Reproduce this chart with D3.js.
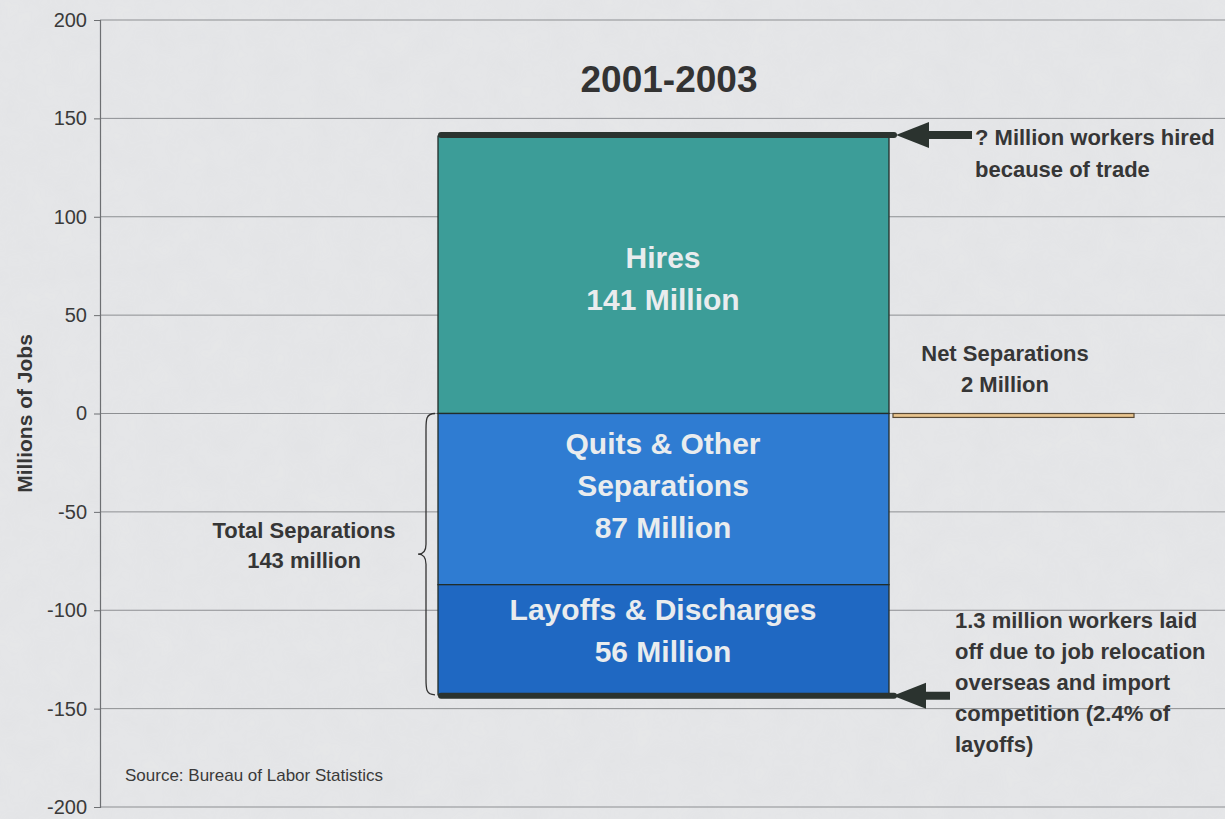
<!DOCTYPE html>
<html>
<head>
<meta charset="utf-8">
<script src="https://cdn.jsdelivr.net/npm/d3@7"></script>
<style>
  html, body { margin: 0; padding: 0; background: #e5e6e8; }
  svg { display: block; font-family: "Liberation Sans", Arial, sans-serif; }
</style>
</head>
<body>
<svg id="chart" width="1225" height="819"></svg>
<script>
// Job flows, 2001-2003 (millions of jobs)
const segments = ["Hires", "Quits & Other Separations", "Layoffs & Discharges"];
const segmentStart = [0, 0, -87];
const segmentEnd = [141, -87, -143];
const segmentLabels = [["Hires", "141 Million"], ["Quits & Other", "Separations", "87 Million"], ["Layoffs & Discharges", "56 Million"]];
const netSeparations = -2;
const totalHires = 141;
const totalSeparations = -143;
const yTicks = [200, 150, 100, 50, 0, -50, -100, -150, -200];

const svg = d3.select("#chart");
const W = 1225, H = 819;
const ink = "#363636";

// paper texture
const defs = svg.append("defs");
const f = defs.append("filter").attr("id", "paper").attr("x", 0).attr("y", 0).attr("width", "100%").attr("height", "100%");
f.append("feTurbulence").attr("type", "fractalNoise").attr("baseFrequency", 0.035).attr("numOctaves", 3).attr("seed", 4).attr("result", "n");
f.append("feColorMatrix").attr("in", "n").attr("type", "matrix")
  .attr("values", "0 0 0 0 0.5  0 0 0 0 0.5  0 0 0 0 0.52  0 0 0 0.12 0");
svg.append("rect").attr("width", W).attr("height", H).attr("fill", "#e6e7e9");
svg.append("rect").attr("width", W).attr("height", H).attr("filter", "url(#paper)").attr("opacity", 0.6);

const left = 100, right = W;
const y = d3.scaleLinear().domain([-200, 200]).range([807, 20]);

// gridlines
svg.append("g").selectAll("line").data(yTicks).join("line")
  .attr("x1", left).attr("x2", right)
  .attr("y1", d => y(d)).attr("y2", d => y(d))
  .attr("stroke", "#8d8f92").attr("stroke-width", 1);

// axis
const yAxis = d3.axisLeft(y).tickValues(yTicks).tickSize(6).tickPadding(7).tickFormat(d => String(d));
const ga = svg.append("g").attr("transform", `translate(${left},0)`).call(yAxis);
ga.select(".domain").attr("stroke", "#6d6f72").attr("stroke-width", 1.2);
ga.selectAll(".tick line").attr("stroke", "#6d6f72");
ga.selectAll(".tick text").attr("fill", "#3a3a3a").attr("font-size", 20).attr("font-family", "Liberation Sans, Arial, sans-serif");

// y-axis title
svg.append("text")
  .attr("transform", `translate(32,${y(0)}) rotate(-90)`)
  .attr("text-anchor", "middle").attr("font-weight", "bold").attr("font-size", 21)
  .attr("fill", ink).text("Millions of Jobs");

// chart title
svg.append("text").attr("x", 669).attr("y", 92).attr("text-anchor", "middle")
  .attr("font-weight", "bold").attr("font-size", 37).attr("fill", "#333").text("2001-2003");

// stacked flow bar
const barX0 = 438, barX1 = 889;
const colors = ["#3c9d98", "#2f7cd2", "#1f68c2"];
const bars = svg.append("g");
segments.forEach((s, i) => {
  const top = y(Math.max(segmentStart[i], segmentEnd[i]));
  const bot = y(Math.min(segmentStart[i], segmentEnd[i]));
  bars.append("rect").attr("x", barX0).attr("y", top).attr("width", barX1 - barX0).attr("height", bot - top)
    .attr("fill", colors[i]).attr("stroke", "#222d2a").attr("stroke-width", 1.3);
});

// segment labels
const lineH = 42;
segments.forEach((s, i) => {
  const lines = segmentLabels[i];
  const top = y(Math.max(segmentStart[i], segmentEnd[i]));
  const bot = y(Math.min(segmentStart[i], segmentEnd[i]));
  let cy;
  if (i === 0) cy = (y(totalHires) + y(0)) / 2 + 3;
  else if (i === 1) cy = top + 71;
  else cy = (top + bot) / 2 - 10;
  const t = svg.append("text").attr("text-anchor", "middle").attr("font-weight", "bold")
    .attr("font-size", 30).attr("fill", "#e9ecee");
  lines.forEach((ln, k) => {
    t.append("tspan").attr("x", 663)
      .attr("y", cy + (k - (lines.length - 1) / 2) * lineH + 11)
      .text(ln);
  });
});

// thick caps on the bar totals
const capColor = "#2b332f";
[totalHires, totalSeparations].forEach(v => {
  svg.append("line").attr("x1", barX0 + 3).attr("x2", barX1 + 5)
    .attr("y1", y(v) - (v > 0 ? 1 : -1)).attr("y2", y(v) - (v > 0 ? 1 : -1))
    .attr("stroke", capColor).attr("stroke-width", 6).attr("stroke-linecap", "round");
});

// net separations bar
const netX0 = 893, netX1 = 1134;
svg.append("rect").attr("x", netX0).attr("y", y(0)).attr("width", netX1 - netX0)
  .attr("height", y(netSeparations) - y(0))
  .attr("fill", "#e9c58f").attr("stroke", "#5a4a35").attr("stroke-width", 1.2);
const nt = svg.append("text").attr("font-weight", "bold").attr("font-size", 22).attr("fill", ink).attr("text-anchor", "middle");
nt.append("tspan").attr("x", 1005).attr("y", 361).text("Net Separations");
nt.append("tspan").attr("x", 1005).attr("y", 392).text("2 Million");

// brace for total separations
const bx = 438, b0 = y(0), b1 = y(totalSeparations), bm = (b0 + b1) / 2;
svg.append("path")
  .attr("d", `M${bx - 3},${b0} C${bx - 12},${b0} ${bx - 12},${b0 + 6} ${bx - 12},${b0 + 16} L${bx - 12},${bm - 10} C${bx - 12},${bm - 2} ${bx - 16},${bm} ${bx - 20},${bm} C${bx - 16},${bm} ${bx - 12},${bm + 2} ${bx - 12},${bm + 10} L${bx - 12},${b1 - 16} C${bx - 12},${b1 - 6} ${bx - 12},${b1} ${bx - 3},${b1}`)
  .attr("fill", "none").attr("stroke", "#333").attr("stroke-width", 1.3);
const ts = svg.append("text").attr("font-weight", "bold").attr("font-size", 22).attr("fill", ink).attr("text-anchor", "middle");
ts.append("tspan").attr("x", 304).attr("y", 538).text("Total Separations");
ts.append("tspan").attr("x", 304).attr("y", 568).text("143 million");

// arrows
function arrow(tipX, yy, tailX) {
  svg.append("line").attr("x1", tipX + 20).attr("x2", tailX).attr("y1", yy).attr("y2", yy)
    .attr("stroke", capColor).attr("stroke-width", 8);
  svg.append("path")
    .attr("d", `M${tipX},${yy} L${tipX + 33},${yy - 13} L${tipX + 33},${yy + 13} Z`)
    .attr("fill", capColor);
}
arrow(896, y(totalHires) - 1, 972);
arrow(893, y(totalSeparations) + 1, 950);

const ta = svg.append("text").attr("font-weight", "bold").attr("font-size", 22).attr("fill", ink);
ta.append("tspan").attr("x", 975).attr("y", 145).text("? Million workers hired");
ta.append("tspan").attr("x", 975).attr("y", 177).text("because of trade");

const lo = ["1.3 million workers laid", "off due to job relocation", "overseas and import", "competition (2.4% of", "layoffs)"];
const tl = svg.append("text").attr("font-weight", "bold").attr("font-size", 22).attr("fill", ink);
lo.forEach((ln, k) => tl.append("tspan").attr("x", 955).attr("y", 628 + k * 31).text(ln));

// source note
svg.append("text").attr("x", 125).attr("y", 781).attr("font-size", 17).attr("fill", "#3a3a3a")
  .text("Source: Bureau of Labor Statistics");
</script>
</body>
</html>
